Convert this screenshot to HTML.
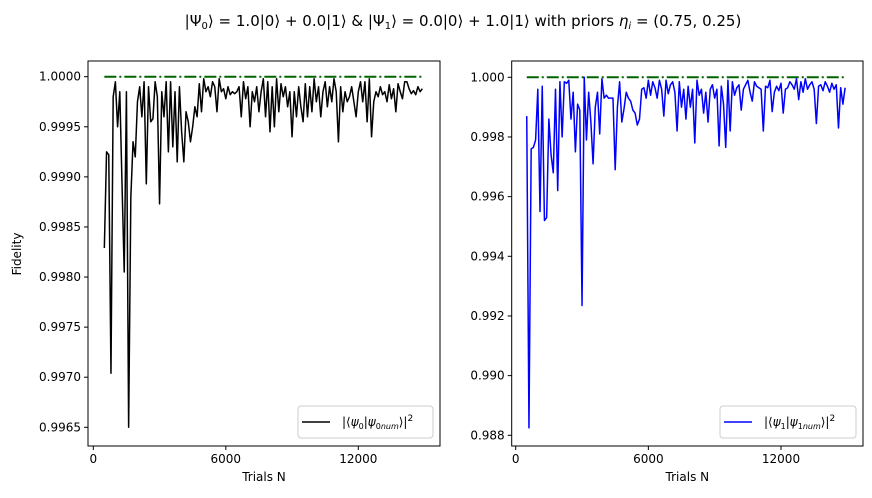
<!DOCTYPE html>
<html><head><meta charset="utf-8"><style>
body{margin:0;background:#fff;}
svg{display:block;font-family:"DejaVu Sans","Liberation Sans",sans-serif;}
</style></head><body>
<svg id="c" width="872" height="498" viewBox="0 0 872 498">
<text x="463" y="26" text-anchor="middle" font-size="15">|Ψ<tspan font-size="10" dy="3">0</tspan><tspan dy="-3">⟩ = 1.0|0⟩ + 0.0|1⟩ &amp; |Ψ</tspan><tspan font-size="10" dy="3">1</tspan><tspan dy="-3">⟩ = 0.0|0⟩ + 1.0|1⟩ with priors </tspan><tspan font-style="italic">η</tspan><tspan font-size="10" font-style="italic" dy="3">i</tspan><tspan dy="-3"> = (0.75, 0.25)</tspan></text>
<text transform="translate(21,254) rotate(-90)" text-anchor="middle" font-size="12">Fidelity</text>
<g id="p0"></g><g id="p1"></g>
</svg>
<script>
const trials=[];for(let t=500;t<=14900;t+=100)trials.push(t);
const xTicks=[0,6000,12000];
const yTicksLeft=[0.9965,0.9970,0.9975,0.9980,0.9985,0.9990,0.9995,1.0000];
const yTicksRight=[0.988,0.990,0.992,0.994,0.996,0.998,1.000];
const idealValue=1.0;
const fidelity0=[0.99829,0.99925,0.99922,0.99704,0.99980,0.99995,0.99950,0.99985,0.99893,0.99805,
0.99985,0.99650,0.99880,0.99935,0.99920,0.99975,0.99990,0.99960,0.99995,0.99893,
0.99990,0.99955,0.99958,0.99995,0.99980,0.99873,0.99985,0.99960,0.99995,0.99925,
0.99995,0.99930,0.99985,0.99915,0.99990,0.99945,0.99915,0.99965,0.99955,0.99935,
0.99950,0.99970,0.99960,0.99993,0.99965,0.99998,0.99985,0.99990,0.99980,0.99995,
0.99990,0.99965,0.99998,0.99985,
0.99988,0.99978,0.99990,0.99982,0.99985,0.99983,0.99985,0.99990,0.99960,0.99995,
0.99978,0.99990,0.99950,0.99985,0.99975,0.99990,0.99965,0.99985,0.99998,0.99960,
0.99995,0.99945,0.99990,0.99950,0.99998,0.99965,0.99993,0.99980,0.99990,0.99970,
0.99985,0.99940,0.99985,0.99960,0.99990,0.99970,0.99955,0.99993,0.99960,0.99990,
0.99965,0.99998,0.99975,0.99990,0.99960,0.99985,0.99995,0.99970,0.99990,0.99975,
0.99998,0.99985,0.99935,0.99990,0.99965,0.99985,0.99975,0.99980,0.99990,0.99975,
0.99960,0.99985,0.99995,0.99975,0.99995,0.99955,0.99998,0.99940,0.99975,0.99985,
0.99980,0.99990,0.99982,0.99985,0.99975,0.99992,0.99978,0.99988,0.99965,0.99993,
0.99985,0.99978,0.99995,0.99995,0.99988,0.99983,0.99986,0.99982,0.99990,0.99985,0.99988];
const fidelity1=[0.99870,0.98825,0.99760,0.99765,0.99790,0.99960,0.99550,0.99970,0.99520,0.99530,
0.99860,0.99740,0.99680,0.99960,0.99620,0.99985,0.99800,0.99985,0.99980,0.99990,
0.99860,0.99950,0.99750,0.99910,0.99890,0.99235,1.00000,0.99790,0.99950,0.99850,
0.99710,0.99900,0.99950,0.99810,0.99995,0.99930,0.99940,0.99930,0.99930,0.99930,
0.99690,0.99900,0.99985,0.99850,0.99895,0.99950,0.99930,0.99920,0.99890,0.99880,
0.99840,0.99860,0.99960,0.99965,0.99930,0.99990,
0.99940,0.99985,0.99965,0.99930,0.99990,0.99960,0.99870,0.99990,0.99945,0.99975,
0.99985,0.99950,0.99820,0.99985,0.99900,0.99960,0.99860,0.99970,0.99900,0.99960,
0.99780,0.99990,0.99940,0.99960,0.99880,0.99950,0.99850,0.99960,0.99975,0.99930,
0.99960,0.99770,0.99970,0.99910,0.99765,0.99990,0.99820,0.99985,0.99940,0.99965,
0.99975,0.99890,0.99960,0.99975,0.99990,0.99950,0.99920,0.99985,0.99970,0.99965,
0.99960,0.99820,0.99970,0.99965,0.99990,0.99885,0.99950,0.99970,0.99955,0.99980,
0.99880,0.99960,0.99965,0.99985,0.99975,0.99960,0.99995,0.99925,0.99985,0.99950,
0.99995,0.99960,0.99975,0.99985,0.99960,0.99845,0.99970,0.99975,0.99955,0.99985,
0.99970,0.99950,0.99980,0.99960,0.99975,0.99830,0.99965,0.99910,0.99965];
const NS='http://www.w3.org/2000/svg';
function mk(parent,tag,attrs,text){const e=document.createElementNS(NS,tag);for(const k in attrs)e.setAttribute(k,attrs[k]);if(text!==undefined)e.textContent=text;parent.appendChild(e);return e;}
const panels=[
{g:'p0',L:88,R:440,T:61,B:446,x0:93.3,x12:358.3,yTop:1.0,yTopPx:76.7,yBot:0.9965,yBotPx:427.3,ticks:yTicksLeft,dec:4,data:fidelity0,color:'#000',leg:[298,406,135,32],sub:'0'},
{g:'p1',L:511.7,R:863,T:61,B:446,x0:515.7,x12:781,yTop:1.0,yTopPx:77.3,yBot:0.988,yBotPx:435.3,ticks:yTicksRight,dec:3,data:fidelity1,color:'#0000ff',leg:[720,406,136,32],sub:'1'}];
panels.forEach((p,pi)=>{
 const g=document.getElementById(p.g);
 const xs=v=>p.x0+(v/12000)*(p.x12-p.x0);
 const ys=v=>p.yTopPx+(p.yTop-v)/(p.yTop-p.yBot)*(p.yBotPx-p.yTopPx);
 const fr=mk(g,'rect',{x:p.L,y:p.T,width:p.R-p.L,height:p.B-p.T,fill:'none',stroke:'#000','stroke-width':1});
 
 
 xTicks.forEach(t=>{const x=xs(t);
  const l=mk(g,'line',{x1:x,x2:x,y1:p.B,y2:p.B+4,stroke:'#000'});
  
  
  const tx=mk(g,'text',{x:x,y:p.B+17,'text-anchor':'middle','font-size':12},String(t));
  
  });
 p.ticks.forEach(t=>{const y=ys(t);
  const l=mk(g,'line',{x1:p.L-4,x2:p.L,y1:y,y2:y,stroke:'#000'});
  
  
  const tx=mk(g,'text',{x:p.L-7,y:y+4,'text-anchor':'end','font-size':12},t.toFixed(p.dec));
  
  });
 const xl=mk(g,'text',{x:(p.L+p.R)/2,y:481,'text-anchor':'middle','font-size':12},'Trials N');
 
 
 const ideal=mk(g,'line',{x1:xs(trials[0]),x2:xs(trials[trials.length-1]),y1:ys(idealValue),y2:ys(idealValue),stroke:'#006400','stroke-width':2,'stroke-dasharray':'12 3 2 3'});
 
 
 const pts=p.data.map((v,i)=>xs(trials[i]).toFixed(2)+','+ys(v).toFixed(2)).join(' ');
 const pl=mk(g,'polyline',{points:pts,fill:'none',stroke:p.color,'stroke-width':1.5,'stroke-linejoin':'round'});
 
 
 const [lx,ly,lw,lh]=p.leg;
 const lg=mk(g,'g',{});
 
 
 mk(lg,'rect',{x:lx,y:ly,width:lw,height:lh,rx:3,fill:'#fff',stroke:'#ccc'});
 mk(lg,'line',{x1:lx+4,x2:lx+32,y1:ly+16,y2:ly+16,stroke:p.color,'stroke-width':1.5});
 const lt=mk(lg,'text',{x:lx+44,y:ly+20,'font-size':12});
 lt.innerHTML='|⟨<tspan font-style="italic">ψ</tspan><tspan font-size="8" dy="3">'+p.sub+'</tspan><tspan dy="-3">|</tspan><tspan font-style="italic">ψ</tspan><tspan font-size="8" dy="3">'+p.sub+'<tspan font-style="italic">num</tspan></tspan><tspan dy="-3">⟩|</tspan><tspan font-size="9" dy="-5">2</tspan>';
 
 
});
</script>
</body></html>
